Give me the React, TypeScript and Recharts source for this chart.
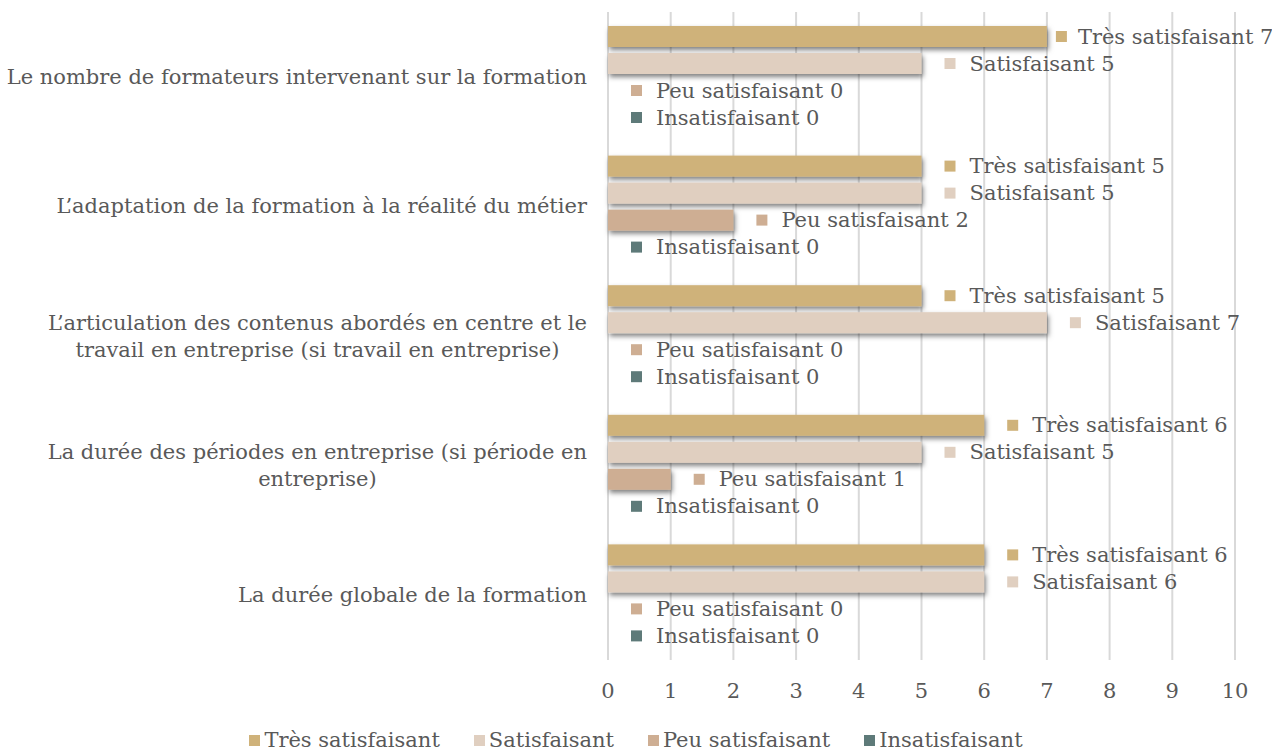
import { BarChart, Bar, XAxis, YAxis, CartesianGrid, Legend } from "recharts";

const FONT = '"DejaVu Serif", serif';
const FONT_SIZE = 21;
const TEXT = "#595959";

const categories = [
  "Le nombre de formateurs intervenant sur la formation",
  "L\u2019adaptation de la formation à la réalité du métier",
  "L\u2019articulation des contenus abordés en centre et le\ntravail en entreprise (si travail en entreprise)",
  "La durée des périodes en entreprise (si période en\nentreprise)",
  "La durée globale de la formation",
];
const tresSatisfaisant = [7, 5, 5, 6, 6];
const satisfaisant = [5, 5, 7, 5, 6];
const peuSatisfaisant = [0, 2, 0, 1, 0];
const insatisfaisant = [0, 0, 0, 0, 0];
const xTicks = [0, 1, 2, 3, 4, 5, 6, 7, 8, 9, 10];

const series = [
  { key: "tres", name: "Très satisfaisant", color: "#CFB27A", values: tresSatisfaisant },
  { key: "sat", name: "Satisfaisant", color: "#E0CFC0", values: satisfaisant },
  { key: "peu", name: "Peu satisfaisant", color: "#CEAE93", values: peuSatisfaisant },
  { key: "insat", name: "Insatisfaisant", color: "#5E7A79", values: insatisfaisant },
];

const data = categories.map((c, i) => {
  const row: Record<string, any> = { cat: c };
  for (const s of series) row[s.key] = s.values[i];
  return row;
});

let ctx: CanvasRenderingContext2D | null = null;
function textWidth(t: string) {
  if (!ctx) ctx = document.createElement("canvas").getContext("2d");
  if (!ctx) return t.length * FONT_SIZE * 0.55;
  ctx.font = `${FONT_SIZE}px ${FONT}`;
  return ctx.measureText(t).width;
}

function CategoryTick(props: any) {
  const { x, y, payload } = props;
  const lines = String(payload.value).split("\n");
  const maxW = Math.max(...lines.map(textWidth));
  const right = x - 13;
  const cx = right - maxW / 2;
  const lh = 27;
  const top = y - ((lines.length - 1) * lh) / 2;
  return (
    <text fill={TEXT} fontSize={FONT_SIZE} fontFamily={FONT} textAnchor="middle">
      {lines.map((l, i) => (
        <tspan key={i} x={cx} y={top + i * lh} dominantBaseline="central">
          {l}
        </tspan>
      ))}
    </text>
  );
}

// data label: small colour square + "name value", pushed left if it would run off the right edge
function makeLabel(name: string, color: string) {
  return (props: any) => {
    const { x, y, width, height, value } = props;
    const end = Number(x) + Number(width);
    const text = `${name} ${value}`;
    let sq = end + 23;
    let tx = end + 48;
    const over = tx + textWidth(text) - 1268;
    if (over > 0) {
      sq = Math.max(end + 9, sq - over);
      tx = sq + 22;
    }
    const cy = Number(y) + Number(height) / 2;
    return (
      <g>
        <rect x={sq} y={cy - 5.5} width={11} height={11} fill={color} />
        <text x={tx} y={cy} fill={TEXT} fontSize={FONT_SIZE} fontFamily={FONT} dominantBaseline="central">
          {text}
        </text>
      </g>
    );
  };
}

function ShadowBar(props: any) {
  const { x, y, width, height, fill } = props;
  if (!width || width <= 0) return <g />;
  return <rect x={x} y={y} width={width} height={height} fill={fill} filter="url(#barShadow)" />;
}

function LegendContent() {
  return (
    <div style={{ display: "flex", justifyContent: "center", gap: 34, fontFamily: FONT, fontSize: FONT_SIZE, color: TEXT, lineHeight: "24px" }}>
      {series.map((s) => (
        <div key={s.key} style={{ display: "flex", alignItems: "center" }}>
          <span style={{ display: "inline-block", width: 11, height: 11, background: s.color, marginRight: 4 }} />
          <span>{s.name}</span>
        </div>
      ))}
    </div>
  );
}

export default function App() {
  return (
    <div style={{ position: "absolute", left: 0, top: 0, width: 1272, height: 752, background: "#fff", overflow: "hidden" }}>
      <svg width={0} height={0} style={{ position: "absolute" }}>
        <defs>
          <filter id="barShadow" x="-10%" y="-50%" width="130%" height="250%">
            <feDropShadow dx={1.5} dy={3} stdDeviation={2.5} floodColor="#000" floodOpacity={0.5} />
          </filter>
        </defs>
      </svg>
      <BarChart
        width={1272}
        height={752}
        data={data}
        layout="vertical"
        margin={{ top: 12, right: 37, bottom: 0, left: 0 }}
        barSize={21}
        barGap={6}
      >
        <CartesianGrid horizontal={false} stroke="#d9d9d9" strokeWidth={2} />
        <XAxis
          type="number"
          domain={[0, 10]}
          ticks={xTicks}
          axisLine={false}
          tickLine={false}
          height={50}
          tickMargin={17}
          tick={{ fill: TEXT, fontSize: FONT_SIZE, fontFamily: FONT }}
        />
        <YAxis
          type="category"
          dataKey="cat"
          width={608}
          axisLine={false}
          tickLine={false}
          tick={<CategoryTick />}
          interval={0}
        />
        <Legend
          verticalAlign="bottom"
          height={42}
          content={<LegendContent />}
          wrapperStyle={{ left: 0, width: 1272, top: 728 }}
        />
        {series.map((s) => (
          <Bar
            key={s.key}
            dataKey={s.key}
            name={s.name}
            fill={s.color}
            shape={<ShadowBar />}
            label={makeLabel(s.name, s.color)}
            isAnimationActive={false}
          />
        ))}
      </BarChart>
    </div>
  );
}
